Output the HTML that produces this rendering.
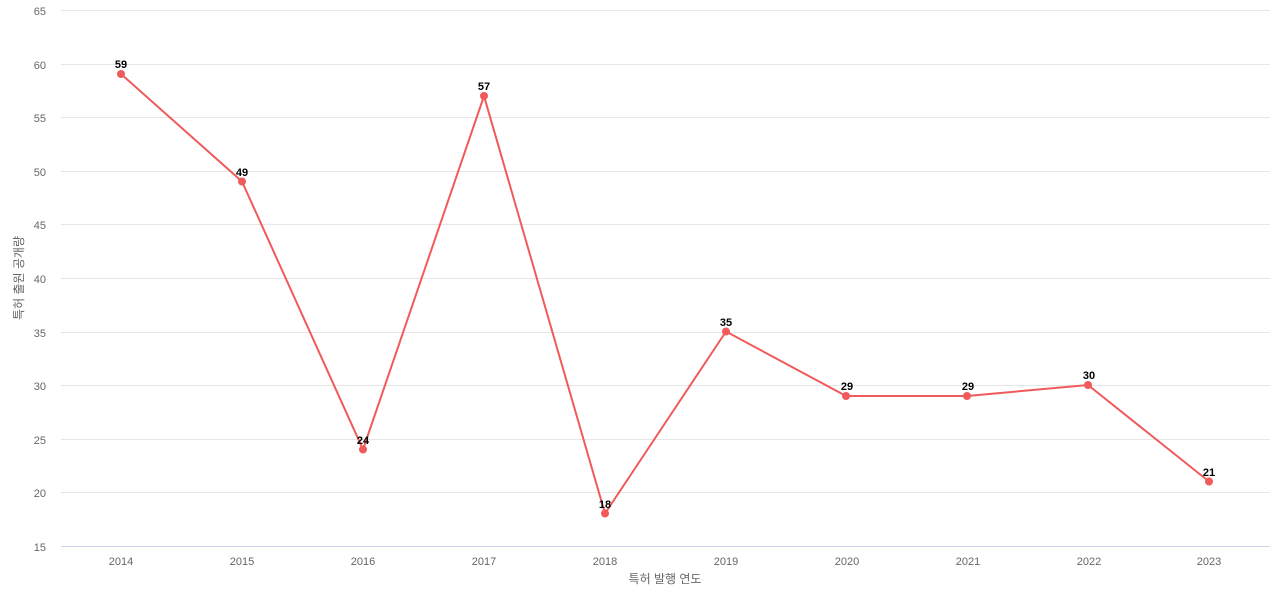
<!DOCTYPE html>
<html><head><meta charset="utf-8"><style>html,body{margin:0;padding:0;background:#fff}svg{display:block}</style></head>
<body>
<svg width="1280" height="600" xmlns="http://www.w3.org/2000/svg" font-family="'Liberation Sans','Noto Sans CJK KR',sans-serif">
<g stroke="#e6e6e6" stroke-width="1">
<line x1="61" x2="1270" y1="10.5" y2="10.5"/><line x1="61" x2="1270" y1="64.5" y2="64.5"/><line x1="61" x2="1270" y1="117.5" y2="117.5"/><line x1="61" x2="1270" y1="171.5" y2="171.5"/><line x1="61" x2="1270" y1="224.5" y2="224.5"/><line x1="61" x2="1270" y1="278.5" y2="278.5"/><line x1="61" x2="1270" y1="332.5" y2="332.5"/><line x1="61" x2="1270" y1="385.5" y2="385.5"/><line x1="61" x2="1270" y1="439.5" y2="439.5"/><line x1="61" x2="1270" y1="492.5" y2="492.5"/>
</g>
<line x1="61" x2="1270" y1="546.5" y2="546.5" stroke="#ccd6eb"/>
<g font-size="11" fill="#666" text-anchor="end">
<text x="46" y="15">65</text><text x="46" y="69">60</text><text x="46" y="122">55</text><text x="46" y="176">50</text><text x="46" y="229">45</text><text x="46" y="283">40</text><text x="46" y="337">35</text><text x="46" y="390">30</text><text x="46" y="444">25</text><text x="46" y="497">20</text><text x="46" y="551">15</text>
</g>
<g font-size="11" fill="#666" text-anchor="middle">
<text x="121" y="565">2014</text><text x="242" y="565">2015</text><text x="363" y="565">2016</text><text x="484" y="565">2017</text><text x="605" y="565">2018</text><text x="726" y="565">2019</text><text x="847" y="565">2020</text><text x="968" y="565">2021</text><text x="1089" y="565">2022</text><text x="1209" y="565">2023</text>
</g>
<text x="665" y="583" font-size="12" fill="#666" text-anchor="middle">특허 발행 연도</text>
<text transform="translate(23,278) rotate(-90)" font-size="12" fill="#666" text-anchor="middle">특허 출원 공개량</text>
<polyline fill="none" stroke="#f05a5a" stroke-width="2" points="121,74 242,181.5 363,449.5 484,96 605,513.5 726,331.5 846,396 967,396 1088,385 1209,481.5"/>
<g fill="#f05a5a">
<circle cx="121" cy="74" r="4"/><circle cx="242" cy="181.5" r="4"/><circle cx="363" cy="449.5" r="4"/><circle cx="484" cy="96" r="4"/><circle cx="605" cy="513.5" r="4"/><circle cx="726" cy="331.5" r="4"/><circle cx="846" cy="396" r="4"/><circle cx="967" cy="396" r="4"/><circle cx="1088" cy="385" r="4"/><circle cx="1209" cy="481.5" r="4"/>
</g>
<g font-size="11" font-weight="bold" fill="#000" text-anchor="middle">
<text x="121" y="68">59</text><text x="242" y="176">49</text><text x="363" y="444">24</text><text x="484" y="90">57</text><text x="605" y="508">18</text><text x="726" y="326">35</text><text x="847" y="390">29</text><text x="968" y="390">29</text><text x="1089" y="379">30</text><text x="1209" y="476">21</text>
</g>
</svg>
</body></html>
